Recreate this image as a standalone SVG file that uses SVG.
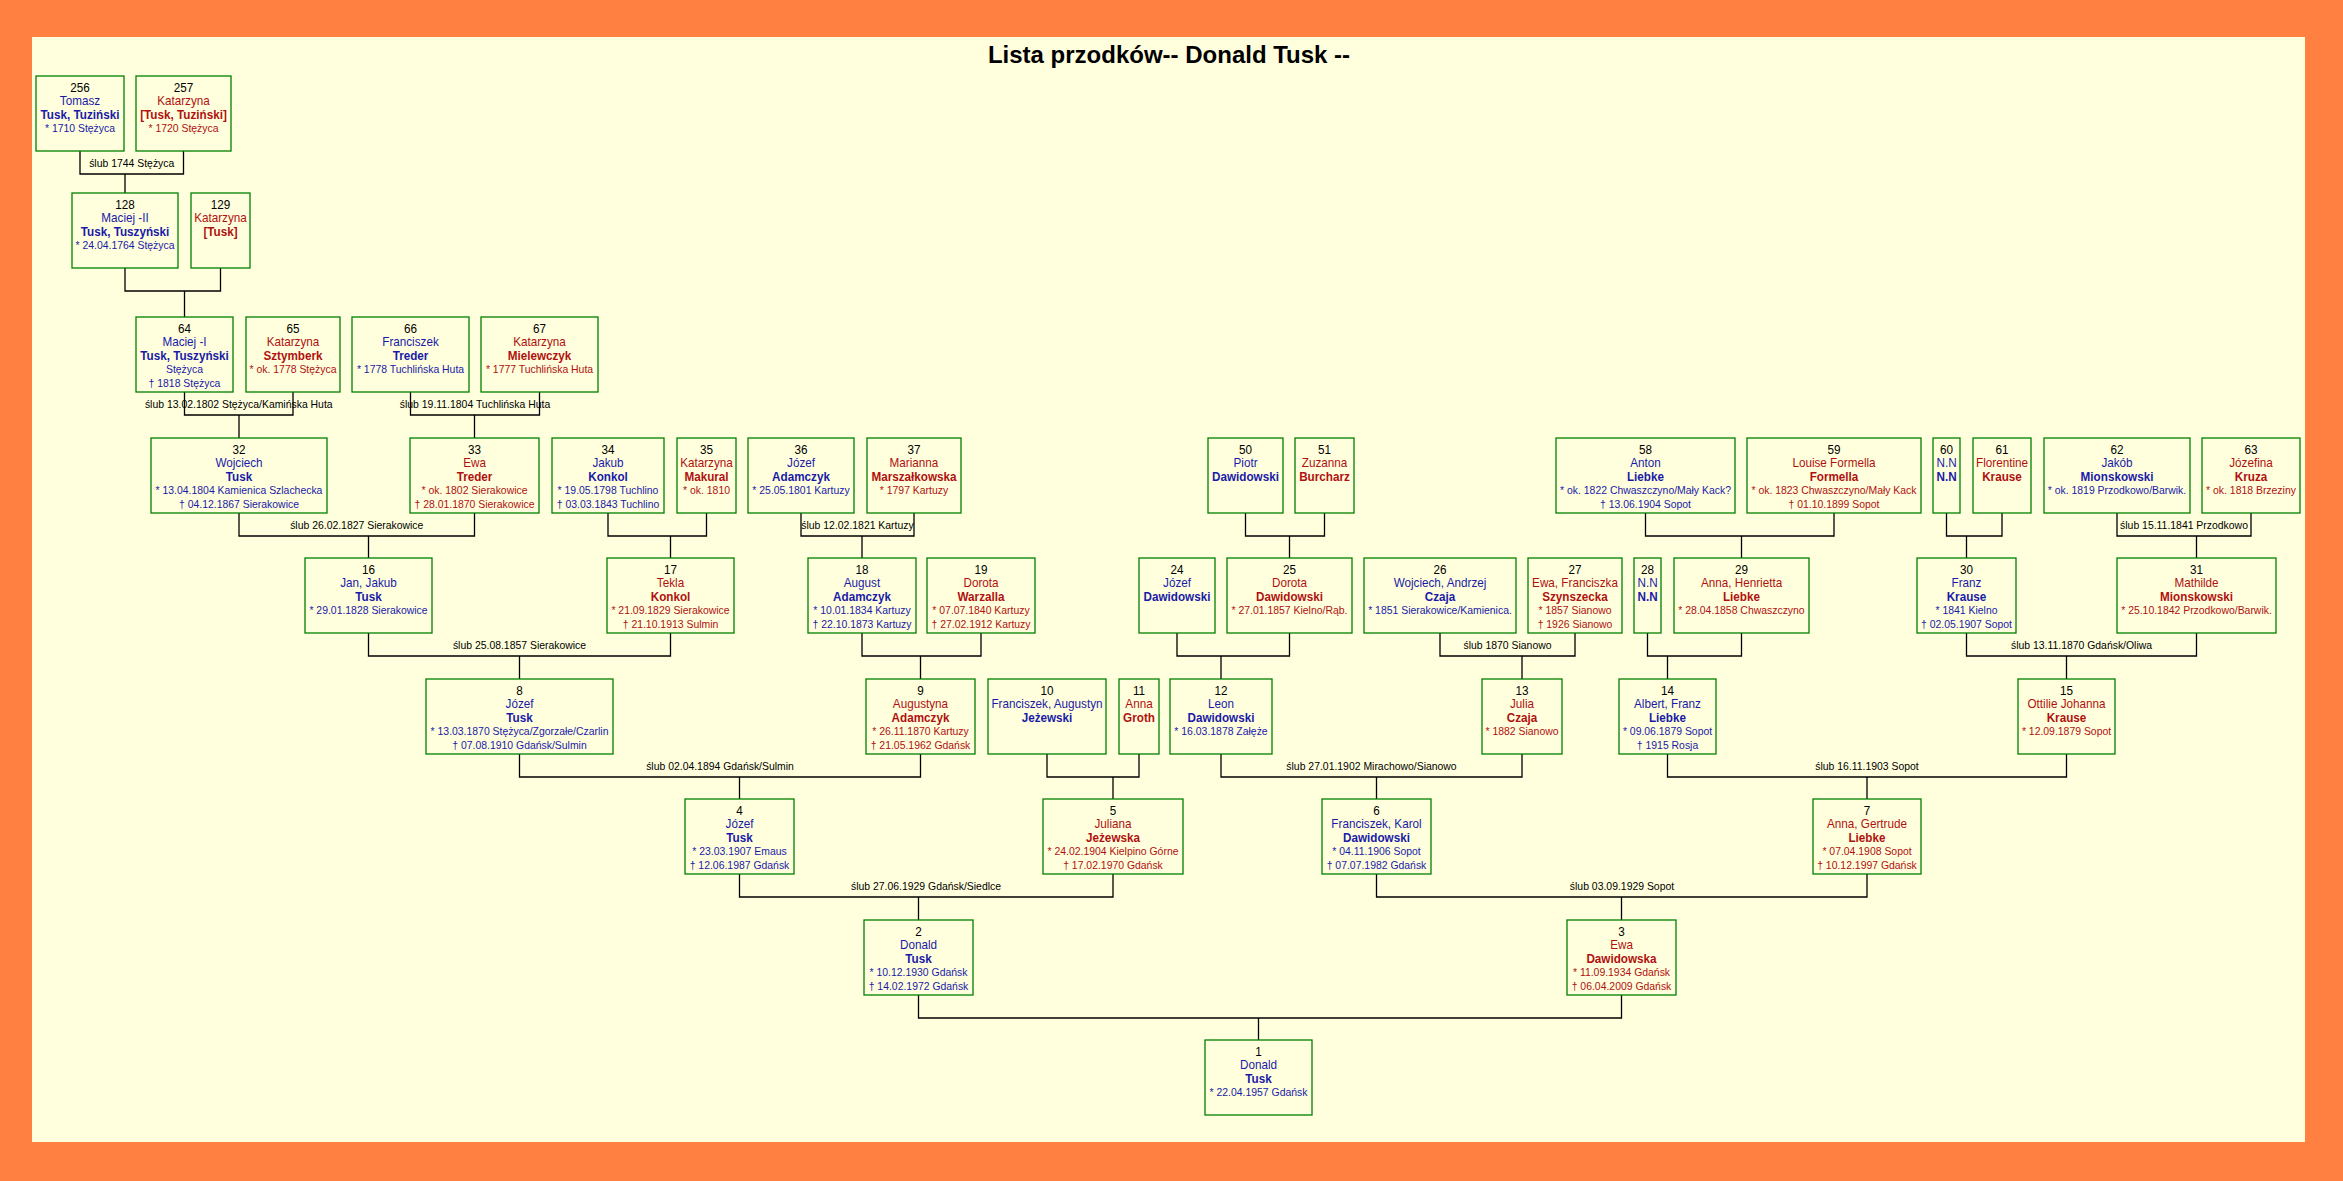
<svg xmlns="http://www.w3.org/2000/svg" width="2343" height="1181" viewBox="0 0 2343 1181">
<style>
text{font-family:"Liberation Sans",Arial,sans-serif;text-anchor:middle;font-size:13px}
.nd rect{fill:#FFFFDD;stroke:#008000;stroke-width:1.3}
.m{fill:#1a1aa8}
.f{fill:#b01010}
.n{fill:#000}
.s{font-weight:bold}
.d{font-size:11.6px}
.lb{font-size:11.6px;fill:#000}
#conn path{fill:none;stroke:#000;stroke-width:1.3}
.title{font-size:24px;font-weight:bold;fill:#000}
</style>
<rect width="2343" height="1181" fill="#FF8040"/>
<rect x="32" y="37" width="2273" height="1105" fill="#FFFFDD"/>
<text class="title" x="1169" y="63">Lista przodków-- Donald Tusk --</text>

<g id="conn">
<path d="M80 151V174H183.5V151M125 174V193"/>
<path d="M125 268V291H220.5V268M184.5 291V317"/>
<path d="M184.5 392V415H293V392M239 415V438"/>
<path d="M410.5 392V415H539.5V392M474.5 415V438"/>
<path d="M239 513V536H474.5V513M368.5 536V558"/>
<path d="M608 513V536H706.5V513M670.5 536V558"/>
<path d="M801 513V536H914V513M862 536V558"/>
<path d="M1245.5 513V536H1324.5V513M1289.5 536V558"/>
<path d="M1645.5 513V536H1834V513M1741.5 536V558"/>
<path d="M1946.5 513V536H2002V513M1966.5 536V558"/>
<path d="M2117 513V536H2251V513M2196.5 536V558"/>
<path d="M368.5 633V656H670.5V633M519.5 656V679"/>
<path d="M862 633V656H981V633M920.5 656V679"/>
<path d="M1177 633V656H1289.5V633M1221 656V679"/>
<path d="M1440 633V656H1575V633M1522 656V679"/>
<path d="M1647.5 633V656H1741.5V633M1667.5 656V679"/>
<path d="M1966.5 633V656H2196.5V633M2066.5 656V679"/>
<path d="M519.5 754V777H920.5V754M739.5 777V799"/>
<path d="M1047 754V777H1139V754M1113 777V799"/>
<path d="M1221 754V777H1522V754M1376.5 777V799"/>
<path d="M1667.5 754V777H2066.5V754M1867 777V799"/>
<path d="M739.5 874V897H1113V874M918.5 897V920"/>
<path d="M1376.5 874V897H1867V874M1621.5 897V920"/>
<path d="M918.5 995V1018H1621.5V995M1258.5 1018V1040"/>
<g transform="translate(131.75 167) scale(.9 1)"><text class="lb">ślub 1744 Stężyca</text></g>
<g transform="translate(238.75 408) scale(.9 1)"><text class="lb">ślub 13.02.1802 Stężyca/Kamińska Huta</text></g>
<g transform="translate(475 408) scale(.9 1)"><text class="lb">ślub 19.11.1804 Tuchlińska Huta</text></g>
<g transform="translate(356.75 529) scale(.9 1)"><text class="lb">ślub 26.02.1827 Sierakowice</text></g>
<g transform="translate(857.5 529) scale(.9 1)"><text class="lb">ślub 12.02.1821 Kartuzy</text></g>
<g transform="translate(2184 529) scale(.9 1)"><text class="lb">ślub 15.11.1841 Przodkowo</text></g>
<g transform="translate(519.5 649) scale(.9 1)"><text class="lb">ślub 25.08.1857 Sierakowice</text></g>
<g transform="translate(1507.5 649) scale(.9 1)"><text class="lb">ślub 1870 Sianowo</text></g>
<g transform="translate(2081.5 649) scale(.9 1)"><text class="lb">ślub 13.11.1870 Gdańsk/Oliwa</text></g>
<g transform="translate(720 770) scale(.9 1)"><text class="lb">ślub 02.04.1894 Gdańsk/Sulmin</text></g>
<g transform="translate(1371.5 770) scale(.9 1)"><text class="lb">ślub 27.01.1902 Mirachowo/Sianowo</text></g>
<g transform="translate(1867 770) scale(.9 1)"><text class="lb">ślub 16.11.1903 Sopot</text></g>
<g transform="translate(926 890) scale(.9 1)"><text class="lb">ślub 27.06.1929 Gdańsk/Siedlce</text></g>
<g transform="translate(1622 890) scale(.9 1)"><text class="lb">ślub 03.09.1929 Sopot</text></g>
</g>

<g id="p256" class="nd"><rect x="36" y="76" width="88" height="75"/><g class="m" transform="translate(80 76) scale(.9 1)"><text class="n" y="16">256</text><text y="29.5">Tomasz</text><text class="s" y="43">Tusk, Tuziński</text><text class="d" y="56.5">* 1710 Stężyca</text></g></g>
<g id="p257" class="nd"><rect x="136" y="76" width="95" height="75"/><g class="f" transform="translate(183.5 76) scale(.9 1)"><text class="n" y="16">257</text><text y="29.5">Katarzyna</text><text class="s" y="43">[Tusk, Tuziński]</text><text class="d" y="56.5">* 1720 Stężyca</text></g></g>
<g id="p128" class="nd"><rect x="72" y="193" width="106" height="75"/><g class="m" transform="translate(125 193) scale(.9 1)"><text class="n" y="16">128</text><text y="29.5">Maciej -II</text><text class="s" y="43">Tusk, Tuszyński</text><text class="d" y="56.5">* 24.04.1764 Stężyca</text></g></g>
<g id="p129" class="nd"><rect x="191" y="193" width="59" height="75"/><g class="f" transform="translate(220.5 193) scale(.9 1)"><text class="n" y="16">129</text><text y="29.5">Katarzyna</text><text class="s" y="43">[Tusk]</text></g></g>
<g id="p64" class="nd"><rect x="136" y="317" width="97" height="75"/><g class="m" transform="translate(184.5 317) scale(.9 1)"><text class="n" y="16">64</text><text y="29.5">Maciej -I</text><text class="s" y="43">Tusk, Tuszyński</text><text class="d" y="56.5">Stężyca</text><text class="d" y="70">† 1818 Stężyca</text></g></g>
<g id="p65" class="nd"><rect x="246" y="317" width="94" height="75"/><g class="f" transform="translate(293 317) scale(.9 1)"><text class="n" y="16">65</text><text y="29.5">Katarzyna</text><text class="s" y="43">Sztymberk</text><text class="d" y="56.5">* ok. 1778 Stężyca</text></g></g>
<g id="p66" class="nd"><rect x="352" y="317" width="117" height="75"/><g class="m" transform="translate(410.5 317) scale(.9 1)"><text class="n" y="16">66</text><text y="29.5">Franciszek</text><text class="s" y="43">Treder</text><text class="d" y="56.5">* 1778 Tuchlińska Huta</text></g></g>
<g id="p67" class="nd"><rect x="481" y="317" width="117" height="75"/><g class="f" transform="translate(539.5 317) scale(.9 1)"><text class="n" y="16">67</text><text y="29.5">Katarzyna</text><text class="s" y="43">Mielewczyk</text><text class="d" y="56.5">* 1777 Tuchlińska Huta</text></g></g>

<g id="p32" class="nd"><rect x="151" y="438" width="176" height="75"/><g class="m" transform="translate(239 438) scale(.9 1)"><text class="n" y="16">32</text><text y="29.5">Wojciech</text><text class="s" y="43">Tusk</text><text class="d" y="56.5">* 13.04.1804 Kamienica Szlachecka</text><text class="d" y="70">† 04.12.1867 Sierakowice</text></g></g>
<g id="p33" class="nd"><rect x="410" y="438" width="129" height="75"/><g class="f" transform="translate(474.5 438) scale(.9 1)"><text class="n" y="16">33</text><text y="29.5">Ewa</text><text class="s" y="43">Treder</text><text class="d" y="56.5">* ok. 1802 Sierakowice</text><text class="d" y="70">† 28.01.1870 Sierakowice</text></g></g>
<g id="p34" class="nd"><rect x="552" y="438" width="112" height="75"/><g class="m" transform="translate(608 438) scale(.9 1)"><text class="n" y="16">34</text><text y="29.5">Jakub</text><text class="s" y="43">Konkol</text><text class="d" y="56.5">* 19.05.1798 Tuchlino</text><text class="d" y="70">† 03.03.1843 Tuchlino</text></g></g>
<g id="p35" class="nd"><rect x="677" y="438" width="59" height="75"/><g class="f" transform="translate(706.5 438) scale(.9 1)"><text class="n" y="16">35</text><text y="29.5">Katarzyna</text><text class="s" y="43">Makural</text><text class="d" y="56.5">* ok. 1810</text></g></g>
<g id="p36" class="nd"><rect x="748" y="438" width="106" height="75"/><g class="m" transform="translate(801 438) scale(.9 1)"><text class="n" y="16">36</text><text y="29.5">Józef</text><text class="s" y="43">Adamczyk</text><text class="d" y="56.5">* 25.05.1801 Kartuzy</text></g></g>
<g id="p37" class="nd"><rect x="867" y="438" width="94" height="75"/><g class="f" transform="translate(914 438) scale(.9 1)"><text class="n" y="16">37</text><text y="29.5">Marianna</text><text class="s" y="43">Marszałkowska</text><text class="d" y="56.5">* 1797 Kartuzy</text></g></g>
<g id="p50" class="nd"><rect x="1208" y="438" width="75" height="75"/><g class="m" transform="translate(1245.5 438) scale(.9 1)"><text class="n" y="16">50</text><text y="29.5">Piotr</text><text class="s" y="43">Dawidowski</text></g></g>
<g id="p51" class="nd"><rect x="1295" y="438" width="59" height="75"/><g class="f" transform="translate(1324.5 438) scale(.9 1)"><text class="n" y="16">51</text><text y="29.5">Zuzanna</text><text class="s" y="43">Burcharz</text></g></g>
<g id="p58" class="nd"><rect x="1556" y="438" width="179" height="75"/><g class="m" transform="translate(1645.5 438) scale(.9 1)"><text class="n" y="16">58</text><text y="29.5">Anton</text><text class="s" y="43">Liebke</text><text class="d" y="56.5">* ok. 1822 Chwaszczyno/Mały Kack?</text><text class="d" y="70">† 13.06.1904 Sopot</text></g></g>
<g id="p59" class="nd"><rect x="1747" y="438" width="174" height="75"/><g class="f" transform="translate(1834 438) scale(.9 1)"><text class="n" y="16">59</text><text y="29.5">Louise Formella</text><text class="s" y="43">Formella</text><text class="d" y="56.5">* ok. 1823 Chwaszczyno/Mały Kack</text><text class="d" y="70">† 01.10.1899 Sopot</text></g></g>
<g id="p60" class="nd"><rect x="1933" y="438" width="27" height="75"/><g class="m" transform="translate(1946.5 438) scale(.9 1)"><text class="n" y="16">60</text><text y="29.5">N.N</text><text class="s" y="43">N.N</text></g></g>
<g id="p61" class="nd"><rect x="1973" y="438" width="58" height="75"/><g class="f" transform="translate(2002 438) scale(.9 1)"><text class="n" y="16">61</text><text y="29.5">Florentine</text><text class="s" y="43">Krause</text></g></g>
<g id="p62" class="nd"><rect x="2044" y="438" width="146" height="75"/><g class="m" transform="translate(2117 438) scale(.9 1)"><text class="n" y="16">62</text><text y="29.5">Jakób</text><text class="s" y="43">Mionskowski</text><text class="d" y="56.5">* ok. 1819 Przodkowo/Barwik.</text></g></g>
<g id="p63" class="nd"><rect x="2202" y="438" width="98" height="75"/><g class="f" transform="translate(2251 438) scale(.9 1)"><text class="n" y="16">63</text><text y="29.5">Józefina</text><text class="s" y="43">Kruza</text><text class="d" y="56.5">* ok. 1818 Brzeziny</text></g></g>

<g id="p16" class="nd"><rect x="305" y="558" width="127" height="75"/><g class="m" transform="translate(368.5 558) scale(.9 1)"><text class="n" y="16">16</text><text y="29.5">Jan, Jakub</text><text class="s" y="43">Tusk</text><text class="d" y="56.5">* 29.01.1828 Sierakowice</text></g></g>
<g id="p17" class="nd"><rect x="607" y="558" width="127" height="75"/><g class="f" transform="translate(670.5 558) scale(.9 1)"><text class="n" y="16">17</text><text y="29.5">Tekla</text><text class="s" y="43">Konkol</text><text class="d" y="56.5">* 21.09.1829 Sierakowice</text><text class="d" y="70">† 21.10.1913 Sulmin</text></g></g>
<g id="p18" class="nd"><rect x="808" y="558" width="108" height="75"/><g class="m" transform="translate(862 558) scale(.9 1)"><text class="n" y="16">18</text><text y="29.5">August</text><text class="s" y="43">Adamczyk</text><text class="d" y="56.5">* 10.01.1834 Kartuzy</text><text class="d" y="70">† 22.10.1873 Kartuzy</text></g></g>
<g id="p19" class="nd"><rect x="927" y="558" width="108" height="75"/><g class="f" transform="translate(981 558) scale(.9 1)"><text class="n" y="16">19</text><text y="29.5">Dorota</text><text class="s" y="43">Warzalla</text><text class="d" y="56.5">* 07.07.1840 Kartuzy</text><text class="d" y="70">† 27.02.1912 Kartuzy</text></g></g>
<g id="p24" class="nd"><rect x="1139" y="558" width="76" height="75"/><g class="m" transform="translate(1177 558) scale(.9 1)"><text class="n" y="16">24</text><text y="29.5">Józef</text><text class="s" y="43">Dawidowski</text></g></g>
<g id="p25" class="nd"><rect x="1227" y="558" width="125" height="75"/><g class="f" transform="translate(1289.5 558) scale(.9 1)"><text class="n" y="16">25</text><text y="29.5">Dorota</text><text class="s" y="43">Dawidowski</text><text class="d" y="56.5">* 27.01.1857 Kielno/Rąb.</text></g></g>
<g id="p26" class="nd"><rect x="1364" y="558" width="152" height="75"/><g class="m" transform="translate(1440 558) scale(.9 1)"><text class="n" y="16">26</text><text y="29.5">Wojciech, Andrzej</text><text class="s" y="43">Czaja</text><text class="d" y="56.5">* 1851 Sierakowice/Kamienica.</text></g></g>
<g id="p27" class="nd"><rect x="1528" y="558" width="94" height="75"/><g class="f" transform="translate(1575 558) scale(.9 1)"><text class="n" y="16">27</text><text y="29.5">Ewa, Franciszka</text><text class="s" y="43">Szynszecka</text><text class="d" y="56.5">* 1857 Sianowo</text><text class="d" y="70">† 1926 Sianowo</text></g></g>
<g id="p28" class="nd"><rect x="1634" y="558" width="27" height="75"/><g class="m" transform="translate(1647.5 558) scale(.9 1)"><text class="n" y="16">28</text><text y="29.5">N.N</text><text class="s" y="43">N.N</text></g></g>
<g id="p29" class="nd"><rect x="1674" y="558" width="135" height="75"/><g class="f" transform="translate(1741.5 558) scale(.9 1)"><text class="n" y="16">29</text><text y="29.5">Anna, Henrietta</text><text class="s" y="43">Liebke</text><text class="d" y="56.5">* 28.04.1858 Chwaszczyno</text></g></g>
<g id="p30" class="nd"><rect x="1917" y="558" width="99" height="75"/><g class="m" transform="translate(1966.5 558) scale(.9 1)"><text class="n" y="16">30</text><text y="29.5">Franz</text><text class="s" y="43">Krause</text><text class="d" y="56.5">* 1841 Kielno</text><text class="d" y="70">† 02.05.1907 Sopot</text></g></g>
<g id="p31" class="nd"><rect x="2117" y="558" width="159" height="75"/><g class="f" transform="translate(2196.5 558) scale(.9 1)"><text class="n" y="16">31</text><text y="29.5">Mathilde</text><text class="s" y="43">Mionskowski</text><text class="d" y="56.5">* 25.10.1842 Przodkowo/Barwik.</text></g></g>

<g id="p8" class="nd"><rect x="426" y="679" width="187" height="75"/><g class="m" transform="translate(519.5 679) scale(.9 1)"><text class="n" y="16">8</text><text y="29.5">Józef</text><text class="s" y="43">Tusk</text><text class="d" y="56.5">* 13.03.1870 Stężyca/Zgorzałe/Czarlin</text><text class="d" y="70">† 07.08.1910 Gdańsk/Sulmin</text></g></g>
<g id="p9" class="nd"><rect x="866" y="679" width="109" height="75"/><g class="f" transform="translate(920.5 679) scale(.9 1)"><text class="n" y="16">9</text><text y="29.5">Augustyna</text><text class="s" y="43">Adamczyk</text><text class="d" y="56.5">* 26.11.1870 Kartuzy</text><text class="d" y="70">† 21.05.1962 Gdańsk</text></g></g>
<g id="p10" class="nd"><rect x="988" y="679" width="118" height="75"/><g class="m" transform="translate(1047 679) scale(.9 1)"><text class="n" y="16">10</text><text y="29.5">Franciszek, Augustyn</text><text class="s" y="43">Jeżewski</text></g></g>
<g id="p11" class="nd"><rect x="1119" y="679" width="40" height="75"/><g class="f" transform="translate(1139 679) scale(.9 1)"><text class="n" y="16">11</text><text y="29.5">Anna</text><text class="s" y="43">Groth</text></g></g>
<g id="p12" class="nd"><rect x="1170" y="679" width="102" height="75"/><g class="m" transform="translate(1221 679) scale(.9 1)"><text class="n" y="16">12</text><text y="29.5">Leon</text><text class="s" y="43">Dawidowski</text><text class="d" y="56.5">* 16.03.1878 Załęże</text></g></g>
<g id="p13" class="nd"><rect x="1482" y="679" width="80" height="75"/><g class="f" transform="translate(1522 679) scale(.9 1)"><text class="n" y="16">13</text><text y="29.5">Julia</text><text class="s" y="43">Czaja</text><text class="d" y="56.5">* 1882 Sianowo</text></g></g>
<g id="p14" class="nd"><rect x="1619" y="679" width="97" height="75"/><g class="m" transform="translate(1667.5 679) scale(.9 1)"><text class="n" y="16">14</text><text y="29.5">Albert, Franz</text><text class="s" y="43">Liebke</text><text class="d" y="56.5">* 09.06.1879 Sopot</text><text class="d" y="70">† 1915 Rosja</text></g></g>
<g id="p15" class="nd"><rect x="2018" y="679" width="97" height="75"/><g class="f" transform="translate(2066.5 679) scale(.9 1)"><text class="n" y="16">15</text><text y="29.5">Ottilie Johanna</text><text class="s" y="43">Krause</text><text class="d" y="56.5">* 12.09.1879 Sopot</text></g></g>

<g id="p4" class="nd"><rect x="685" y="799" width="109" height="75"/><g class="m" transform="translate(739.5 799) scale(.9 1)"><text class="n" y="16">4</text><text y="29.5">Józef</text><text class="s" y="43">Tusk</text><text class="d" y="56.5">* 23.03.1907 Emaus</text><text class="d" y="70">† 12.06.1987 Gdańsk</text></g></g>
<g id="p5" class="nd"><rect x="1043" y="799" width="140" height="75"/><g class="f" transform="translate(1113 799) scale(.9 1)"><text class="n" y="16">5</text><text y="29.5">Juliana</text><text class="s" y="43">Jeżewska</text><text class="d" y="56.5">* 24.02.1904 Kielpino Górne</text><text class="d" y="70">† 17.02.1970 Gdańsk</text></g></g>
<g id="p6" class="nd"><rect x="1322" y="799" width="109" height="75"/><g class="m" transform="translate(1376.5 799) scale(.9 1)"><text class="n" y="16">6</text><text y="29.5">Franciszek, Karol</text><text class="s" y="43">Dawidowski</text><text class="d" y="56.5">* 04.11.1906 Sopot</text><text class="d" y="70">† 07.07.1982 Gdańsk</text></g></g>
<g id="p7" class="nd"><rect x="1813" y="799" width="108" height="75"/><g class="f" transform="translate(1867 799) scale(.9 1)"><text class="n" y="16">7</text><text y="29.5">Anna, Gertrude</text><text class="s" y="43">Liebke</text><text class="d" y="56.5">* 07.04.1908 Sopot</text><text class="d" y="70">† 10.12.1997 Gdańsk</text></g></g>

<g id="p2" class="nd"><rect x="864" y="920" width="109" height="75"/><g class="m" transform="translate(918.5 920) scale(.9 1)"><text class="n" y="16">2</text><text y="29.5">Donald</text><text class="s" y="43">Tusk</text><text class="d" y="56.5">* 10.12.1930 Gdańsk</text><text class="d" y="70">† 14.02.1972 Gdańsk</text></g></g>
<g id="p3" class="nd"><rect x="1567" y="920" width="109" height="75"/><g class="f" transform="translate(1621.5 920) scale(.9 1)"><text class="n" y="16">3</text><text y="29.5">Ewa</text><text class="s" y="43">Dawidowska</text><text class="d" y="56.5">* 11.09.1934 Gdańsk</text><text class="d" y="70">† 06.04.2009 Gdańsk</text></g></g>

<g id="p1" class="nd"><rect x="1205" y="1040" width="107" height="75"/><g class="m" transform="translate(1258.5 1040) scale(.9 1)"><text class="n" y="16">1</text><text y="29.5">Donald</text><text class="s" y="43">Tusk</text><text class="d" y="56.5">* 22.04.1957 Gdańsk</text></g></g>
</svg>
